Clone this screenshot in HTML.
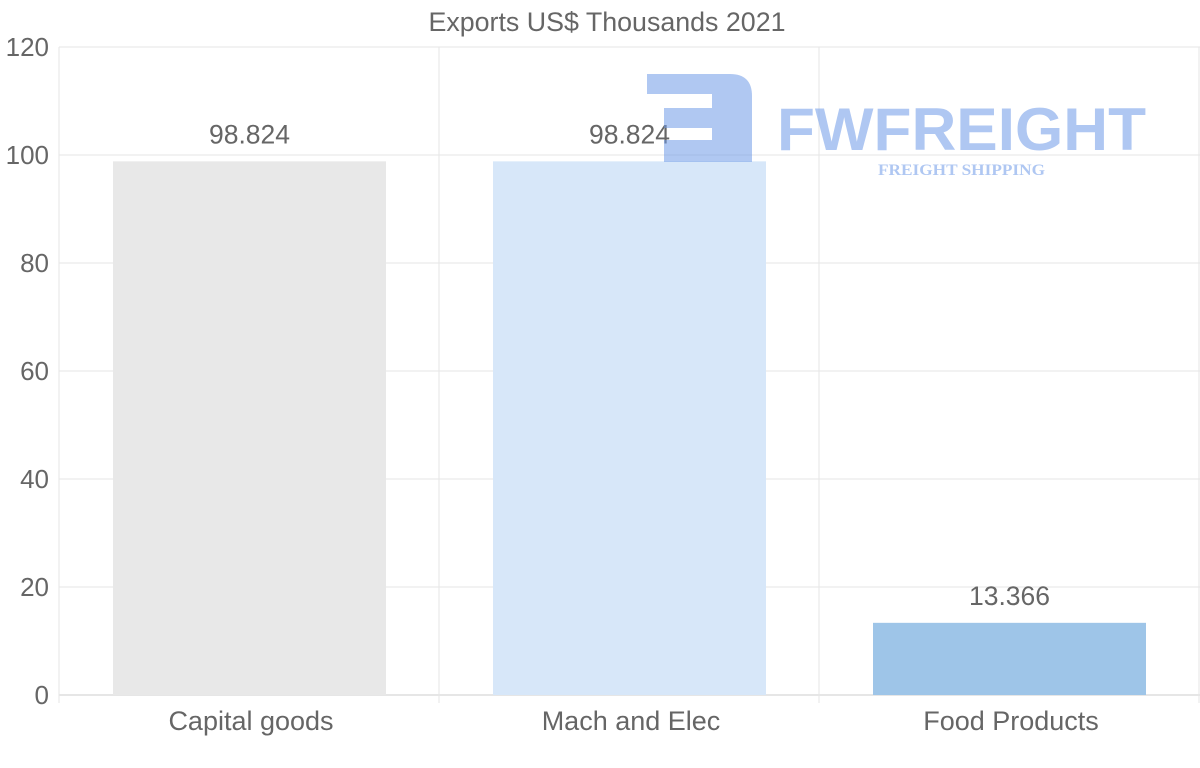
<!DOCTYPE html>
<html><head><meta charset="utf-8"><style>
body{margin:0;background:#fff;width:1200px;height:763px;overflow:hidden;font-family:"Liberation Sans",sans-serif}
</style></head><body>
<svg id="chart" width="1200" height="763" xmlns="http://www.w3.org/2000/svg">
<text x="607" y="31" text-anchor="middle" font-size="26.8" fill="#666">Exports US$ Thousands 2021</text>
<g id="grid"></g>
<g id="bars"></g>
<g id="watermark" opacity="0.55">
<path d="M647 74 H730 Q752 74 752 96 V162 H664 V140 H712 V128 H664 V108 H712 V94 H647 Z" fill="#6f9ae8"/>
<text x="777" y="150" font-size="60" font-weight="bold" fill="#6f9ae8" textLength="369" lengthAdjust="spacingAndGlyphs">FWFREIGHT</text>
<text x="878" y="175" font-family="Liberation Serif,serif" font-size="16" font-weight="bold" fill="#6f9ae8" textLength="167" lengthAdjust="spacingAndGlyphs">FREIGHT SHIPPING</text>
</g>
</svg>
<script>
const categories=["Capital goods","Mach and Elec","Food Products"];
const values=[98.824,98.824,13.366];
const labels=["98.824","98.824","13.366"];
const yTicks=[0,20,40,60,80,100,120];
const colors=["#e8e8e8","#d7e7f9","#9ec5e8"];
const ns="http://www.w3.org/2000/svg";
const L=59,R=1199,T=47,B=695,yMax=120;
const y=v=>B-(B-T)*v/yMax;
const band=(R-L)/categories.length;
const g=document.getElementById('grid'),bg=document.getElementById('bars');
function mk(p,tag,a){const e=document.createElementNS(ns,tag);for(const k in a)e.setAttribute(k,a[k]);p.appendChild(e);return e;}
yTicks.forEach(t=>{
 const l=mk(g,'line',{x1:L,x2:R+1,y1:y(t),y2:y(t),stroke:t===0?'#ccc':'#e6e6e6'});
 
 
 const tx=mk(g,'text',{x:49,y:y(t)+9,'text-anchor':'end','font-size':26,fill:'#666'});
 tx.textContent=t;
 
 
});
for(let i=0;i<=categories.length;i++){
 const x=L+band*i;
 const l=mk(g,'line',{x1:x,x2:x,y1:T,y2:B+8,stroke:'#e6e6e6'});
 
 
}
categories.forEach((c,i)=>{
 const x0=L+band*i+54,w=band-107;
 const r=mk(bg,'rect',{x:x0,y:y(values[i]),width:w,height:B-y(values[i]),fill:colors[i]});
 
 
 const v=mk(bg,'text',{x:x0+w/2,y:y(values[i])-18,'text-anchor':'middle','font-size':26.5,fill:'#666'});
 v.textContent=labels[i];
 
 
 const xl=mk(bg,'text',{x:L+band*(i+0.5)+2,y:730,'text-anchor':'middle','font-size':27,fill:'#666'});
 xl.textContent=c;
 
 
});
</script>
</body></html>
